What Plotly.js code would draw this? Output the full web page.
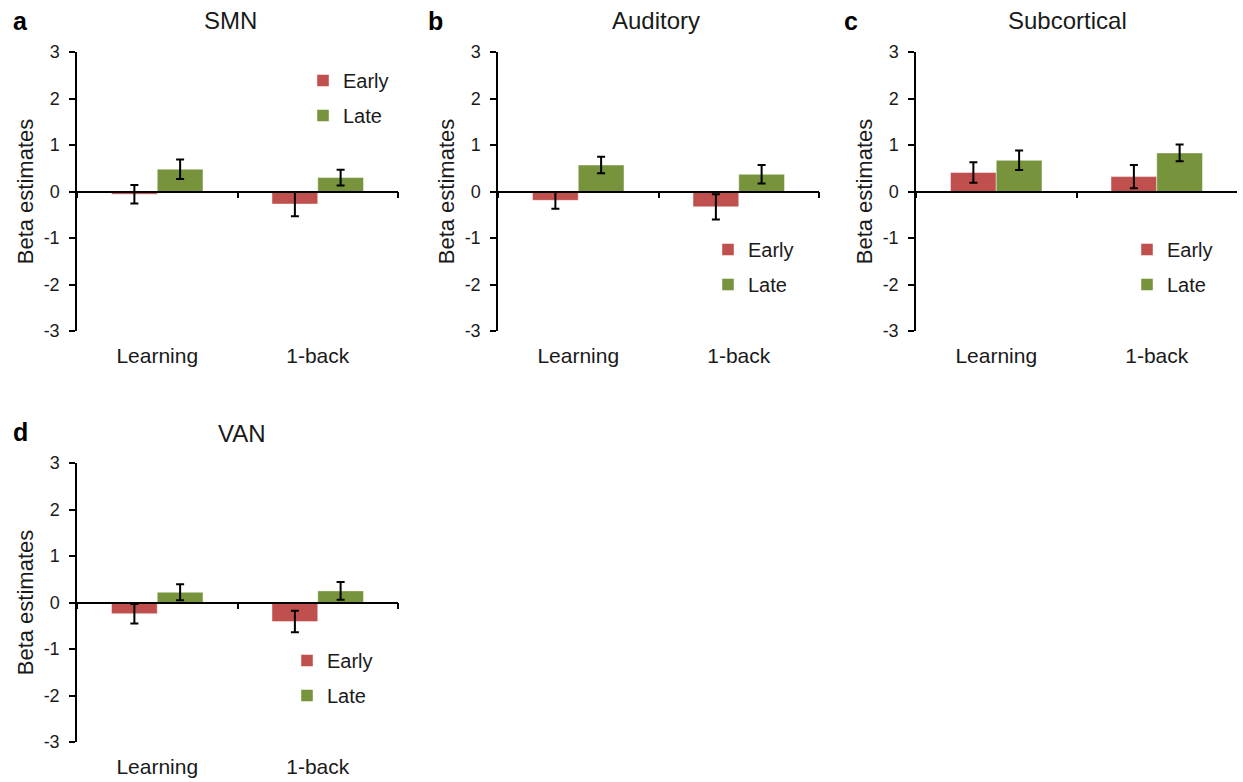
<!DOCTYPE html>
<html>
<head>
<meta charset="utf-8">
<script src="https://cdn.plot.ly/plotly-3.0.1.min.js"></script>
<style>
  html, body { margin: 0; padding: 0; background: #ffffff; }
  #chart { width: 1243px; height: 782px; }
</style>
</head>
<body>
<div id="chart"></div>
<script>
// ---- Data ----
const categories = ['Learning', '1-back'];
const seriesNames = ['Early', 'Late'];
const panelTitles = ['SMN', 'Auditory', 'Subcortical', 'VAN'];
const panelLetters = ['a', 'b', 'c', 'd'];

const smnEarly = [-0.06, -0.27];
const smnEarlyErr = [0.20, 0.26];
const smnLate = [0.48, 0.30];
const smnLateErr = [0.21, 0.17];

const audEarly = [-0.19, -0.33];
const audEarlyErr = [0.18, 0.27];
const audLate = [0.57, 0.37];
const audLateErr = [0.18, 0.20];

const subEarly = [0.41, 0.32];
const subEarlyErr = [0.22, 0.25];
const subLate = [0.67, 0.83];
const subLateErr = [0.21, 0.18];

const vanEarly = [-0.24, -0.41];
const vanEarlyErr = [0.21, 0.23];
const vanLate = [0.22, 0.25];
const vanLateErr = [0.17, 0.19];

const yTickVals = [-3, -2, -1, 0, 1, 2, 3];
const yTickText = ['-3', '-2', '-1', '0', '1', '2', '3'];

// ---- Styling / layout ----
const W = 1243, H = 782;
const FONT = 'Liberation Sans, Arial, Helvetica, sans-serif';
const TXT = '#1a1a1a';
const COLORS = ['#C0504D', '#77933C'];

const panelData = [
  [smnEarly, smnEarlyErr, smnLate, smnLateErr],
  [audEarly, audEarlyErr, audLate, audLateErr],
  [subEarly, subEarlyErr, subLate, subLateErr],
  [vanEarly, vanEarlyErr, vanLate, vanLateErr]
];

// pixel boxes of plot areas [x0, x1, yTop, yBottom]
const boxes = [
  [77, 398, 52, 331],
  [498, 819, 52, 331],
  [916, 1237, 52, 331],
  [77, 398, 463, 742]
];
// legend anchor (left, top) in pixels
const legendPos = [
  [303, 61],
  [708, 230],
  [1127, 230],
  [287, 641]
];
// title centres in pixels
const titlePos = [[230, 21], [656, 21], [1067, 21], [242, 433]];
const letterPos = [[20, 21], [435, 21], [851, 21], [20, 432]];

const traces = [];
const layout = {
  width: W, height: H,
  margin: {l: 0, r: 0, t: 0, b: 0},
  paper_bgcolor: '#ffffff',
  plot_bgcolor: 'rgba(0,0,0,0)',
  font: {family: FONT, color: TXT},
  barmode: 'group',
  bargap: 0.43,
  bargroupgap: 0,
  showlegend: true,
  annotations: []
};

panelData.forEach((pd, i) => {
  const n = i + 1;
  const xa = n === 1 ? 'x' : 'x' + n;
  const ya = n === 1 ? 'y' : 'y' + n;
  const xKey = n === 1 ? 'xaxis' : 'xaxis' + n;
  const yKey = n === 1 ? 'yaxis' : 'yaxis' + n;
  const lgKey = n === 1 ? 'legend' : 'legend' + n;
  const b = boxes[i];
  const yDom = [1 - b[3] / H, 1 - b[2] / H];

  for (let s = 0; s < 2; s++) {
    traces.push({
      type: 'bar',
      name: seriesNames[s],
      x: categories,
      y: pd[s * 2],
      error_y: {type: 'data', array: pd[s * 2 + 1], visible: true,
                color: '#000000', thickness: 2, width: 4},
      marker: {color: COLORS[s], line: {color: 'rgba(255,255,255,0.45)', width: 1}},
      xaxis: xa, yaxis: ya,
      legend: lgKey,
      legendgroup: 'g' + n + s,
      hoverinfo: 'x+y+name'
    });
  }

  layout[xKey] = {
    domain: [b[0] / W, b[1] / W],
    anchor: 'free',
    position: (yDom[0] + yDom[1]) / 2,
    type: 'category',
    categoryorder: 'array',
    categoryarray: categories,
    range: [-0.5, 1.5],
    showline: true, linecolor: '#000000', linewidth: 1.5,
    ticks: 'outside', tickson: 'boundaries', ticklen: 6, tickwidth: 1.5, tickcolor: '#000000',
    ticklabelstandoff: 146,
    tickfont: {size: 21, family: FONT, color: TXT},
    showgrid: false, zeroline: false, fixedrange: true
  };
  layout[yKey] = {
    domain: yDom,
    anchor: xa,
    range: [-3, 3],
    tickvals: yTickVals,
    ticktext: yTickText,
    ticks: 'outside', ticklen: 6, tickwidth: 1.5, tickcolor: '#000000',
    ticklabelstandoff: 6,
    showline: true, linecolor: '#000000', linewidth: 1.5,
    tickfont: {size: 18, family: FONT, color: TXT},
    title: {text: 'Beta estimates', font: {size: 22, family: FONT, color: TXT}, standoff: 4},
    showgrid: false, zeroline: false, fixedrange: true
  };
  layout[lgKey] = {
    x: legendPos[i][0] / W, y: 1 - legendPos[i][1] / H,
    xanchor: 'left', yanchor: 'top',
    xref: 'paper', yref: 'paper',
    bgcolor: 'rgba(0,0,0,0)', borderwidth: 0,
    font: {size: 20, family: FONT, color: TXT},
    tracegroupgap: 6,
    traceorder: 'grouped'
  };

  layout.annotations.push({
    text: panelTitles[i], xref: 'paper', yref: 'paper',
    x: titlePos[i][0] / W, y: 1 - titlePos[i][1] / H,
    xanchor: 'center', yanchor: 'middle', showarrow: false,
    font: {size: 24, family: FONT, color: TXT}
  });
  layout.annotations.push({
    text: '<b>' + panelLetters[i] + '</b>', xref: 'paper', yref: 'paper',
    x: letterPos[i][0] / W, y: 1 - letterPos[i][1] / H,
    xanchor: 'center', yanchor: 'middle', showarrow: false,
    font: {size: 25, family: FONT, color: '#000000'}
  });
});

Plotly.newPlot('chart', traces, layout, {displayModeBar: false, staticPlot: false});
</script>
</body>
</html>
